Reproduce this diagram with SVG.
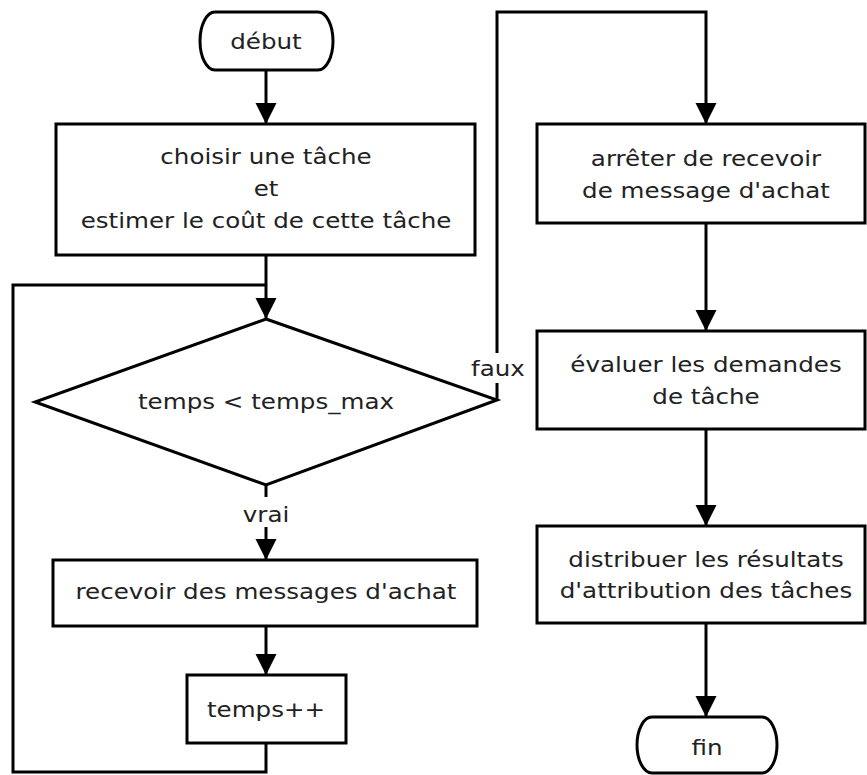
<svg xmlns="http://www.w3.org/2000/svg" width="867" height="775" viewBox="0 0 867 775">
<style>
.n{fill:#fff;stroke:#000;stroke-width:3}
.c{fill:none;stroke:#000;stroke-width:3}
text{font-family:"DejaVu Sans",sans-serif;font-size:21px;fill:#222;text-anchor:middle}
</style>
<defs>
<marker id="ah" markerUnits="userSpaceOnUse" markerWidth="22" markerHeight="22" refX="21" refY="10.5" orient="auto" viewBox="0 0 22 22">
<path d="M0,0 L21,10.5 L0,21 z" fill="#000"/>
</marker>
</defs>
<rect width="867" height="775" fill="#fff"/>
<g id="connectors">
<path class="c" d="M266,70 V124" marker-end="url(#ah)"/>
<path class="c" d="M266,255 V319" marker-end="url(#ah)"/>
<path class="c" d="M266,743 V772 H13 V285 H266"/>
<path class="c" d="M266,485 V560" marker-end="url(#ah)"/>
<path class="c" d="M266,626 V675" marker-end="url(#ah)"/>
<path class="c" d="M497,400 V12 H706 V124" marker-end="url(#ah)"/>
<path class="c" d="M706,223 V331" marker-end="url(#ah)"/>
<path class="c" d="M706,429 V526" marker-end="url(#ah)"/>
<path class="c" d="M706,623 V717" marker-end="url(#ah)"/>
<rect x="470" y="353" width="56" height="30" fill="#fff"/>
<text transform="translate(498,376) scale(1.17,1)">faux</text>
<rect x="240" y="497" width="52" height="30" fill="#fff"/>
<text transform="translate(266,522) scale(1.17,1)">vrai</text>
</g>
<g id="debut">
<path class="n" d="M215,12 H318 A15,29 0 0 1 318,70 H215 A15,29 0 0 1 215,12 Z"/>
<text transform="translate(266,49) scale(1.17,1)">début</text>
</g>
<g id="choisir">
<rect class="n" x="56" y="124" width="419" height="131"/>
<text transform="translate(266,164) scale(1.17,1)">choisir une tâche</text>
<text transform="translate(266,196) scale(1.17,1)">et</text>
<text transform="translate(266,228) scale(1.17,1)">estimer le coût de cette tâche</text>
</g>
<g id="condition">
<polygon class="n" points="266,319 497,400 266,485 35,402"/>
<text transform="translate(266,409) scale(1.17,1)">temps &lt; temps_max</text>
</g>
<g id="recevoir">
<rect class="n" x="53" y="560" width="424" height="66"/>
<text transform="translate(266,599) scale(1.17,1)">recevoir des messages d'achat</text>
</g>
<g id="incr">
<rect class="n" x="187" y="675" width="159" height="68"/>
<text transform="translate(266,717) scale(1.17,1)">temps++</text>
</g>
<g id="arreter">
<rect class="n" x="537" y="124" width="328" height="99"/>
<text transform="translate(706,166) scale(1.17,1)">arrêter de recevoir</text>
<text transform="translate(706,198) scale(1.17,1)">de message d'achat</text>
</g>
<g id="evaluer">
<rect class="n" x="537" y="331" width="328" height="98"/>
<text transform="translate(706,372) scale(1.17,1)">évaluer les demandes</text>
<text transform="translate(706,404) scale(1.17,1)">de tâche</text>
</g>
<g id="distribuer">
<rect class="n" x="537" y="526" width="328" height="97"/>
<text transform="translate(706,567) scale(1.17,1)">distribuer les résultats</text>
<text transform="translate(706,598) scale(1.17,1)">d'attribution des tâches</text>
</g>
<g id="fin">
<path class="n" d="M652,717 H762 A15,28 0 0 1 762,773 H652 A15,28 0 0 1 652,717 Z"/>
<text transform="translate(707,755) scale(1.17,1)">fin</text>
</g>
</svg>
